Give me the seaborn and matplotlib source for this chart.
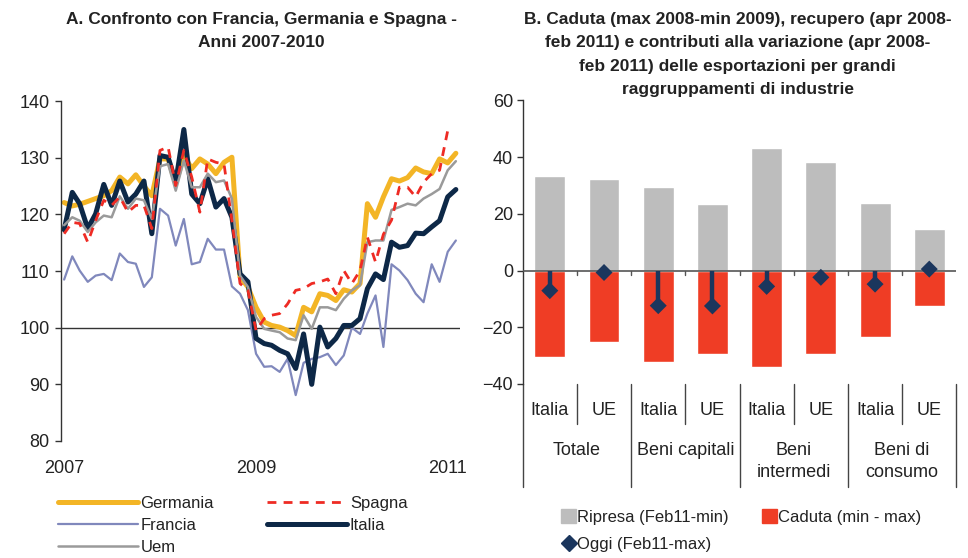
import numpy as np
import pandas as pd
import matplotlib
matplotlib.use("Agg")
import matplotlib.pyplot as plt
import matplotlib.dates as mdates
from matplotlib.patches import Patch
from matplotlib.lines import Line2D
import seaborn as sns

# --- panel A: monthly indices, Jan 2007 - Feb 2011 ---
months = pd.date_range("2007-01-01", periods=50, freq="MS")

germania = [122.1, 121.5, 121.8, 122.3, 122.8, 123.3, 124.2, 126.6, 125.4, 127.0,
            125.0, 123.3, 129.8, 129.8, 125.4, 130.4, 128.1, 129.8, 128.9, 127.2,
            129.2, 130.1, 108.9, 107.2, 103.6, 101.0, 100.4, 100.1, 99.5, 98.6,
            103.6, 102.8, 106.0, 105.7, 104.8, 106.7, 106.3, 107.8, 121.9, 119.5,
            123.1, 126.3, 125.9, 126.5, 128.2, 127.5, 127.2, 129.8, 129.1, 130.8]
spagna = [116.6, 118.6, 118.4, 115.1, 118.9, 122.5, 121.6, 123.1, 120.4, 121.6,
          121.6, 117.5, 131.3, 131.9, 125.1, 131.3, 126.6, 120.4, 129.8, 129.2,
          128.9, 118.9, 107.8, 106.6, 99.5, 101.6, 102.2, 102.5, 104.2, 106.6,
          106.9, 107.8, 108.1, 108.6, 106.0, 110.1, 107.8, 110.1, 116.0, 111.6,
          116.5, 119.0, 124.8, 124.8, 123.1, 125.7, 127.2, 127.8, 134.8, np.nan]
francia = [108.5, 112.6, 110.1, 108.1, 109.2, 109.5, 108.4, 113.1, 111.6, 111.3,
           107.2, 108.9, 121.0, 119.8, 114.5, 119.2, 111.2, 111.6, 115.7, 113.8,
           113.8, 107.3, 106.0, 103.1, 95.4, 93.1, 93.2, 92.2, 94.5, 88.1,
           93.8, 94.5, 94.8, 95.4, 93.4, 95.1, 100.0, 98.9, 102.5, 105.7,
           96.6, 111.2, 110.1, 108.4, 106.0, 104.5, 111.2, 108.1, 113.4, 115.4]
italia = [117.3, 123.9, 121.9, 117.5, 120.1, 125.3, 121.6, 125.9, 122.2, 123.6,
          125.9, 116.6, 130.4, 130.1, 125.7, 135.0, 123.6, 121.9, 126.3, 121.3,
          122.8, 119.5, 109.5, 108.1, 98.1, 97.2, 96.9, 96.0, 95.4, 92.8,
          98.9, 90.0, 100.1, 96.6, 98.1, 100.4, 100.4, 101.6, 106.9, 109.5,
          108.5, 115.1, 114.2, 114.5, 116.7, 116.6, 117.8, 118.9, 123.1, 124.4]
uem = [118.1, 119.5, 118.9, 116.9, 118.6, 119.8, 119.5, 123.2, 121.0, 122.8,
       122.5, 119.2, 128.5, 128.9, 124.2, 129.5, 124.8, 124.8, 127.2, 125.7,
       126.0, 122.8, 109.2, 107.2, 101.9, 99.8, 99.5, 99.2, 98.1, 97.8,
       102.2, 99.8, 103.6, 103.6, 103.1, 105.1, 106.6, 107.5, 115.1, 115.4,
       115.4, 120.8, 121.3, 121.9, 121.6, 122.8, 123.6, 124.5, 127.8, 129.4]

# --- panel B: bars per industry group ---
gruppi = ["Totale", "Beni capitali", "Beni\nintermedi", "Beni di\nconsumo"]
aree = ["Italia", "UE"]
ripresa = [33.4, 32.4, 29.5, 23.5, 43.3, 38.4, 23.8, 14.7]
caduta = [-30.4, -25.1, -32.1, -29.3, -34.2, -29.3, -23.3, -12.4]
oggi = [-7.1, -0.7, -12.4, -12.5, -5.6, -2.4, -4.8, 0.5]

c_ger = "#F3B526"
c_spa = "#EE2B24"
c_fra = "#8088BC"
c_ita = "#0D2847"
c_uem = "#9A9A9A"
c_grey = "#BDBDBD"
c_red = "#EF3D25"
c_dia = "#1B365D"
txt = "#222222"

sns.set_style("white")
plt.rcParams["font.family"] = ["Liberation Sans", "DejaVu Sans"]
plt.rcParams["font.size"] = 13
plt.rcParams["text.color"] = txt

fig = plt.figure(figsize=(9.68, 5.58), dpi=100)
ax1 = fig.add_axes([0.063, 0.2097, 0.412, 0.609])
ax2 = fig.add_axes([0.540, 0.312, 0.448, 0.508])

# ---------------- panel A ----------------
df_a = pd.DataFrame({"data": months, "Germania": germania, "Spagna": spagna,
                     "Francia": francia, "Italia": italia, "Uem": uem})

ax1.axhline(100, color="#333333", lw=1, zorder=1)
sns.lineplot(data=df_a, x="data", y="Germania", color=c_ger, lw=3.6, ax=ax1, label="Germania")
sns.lineplot(data=df_a, x="data", y="Francia", color=c_fra, lw=1.6, ax=ax1, label="Francia")
sns.lineplot(data=df_a, x="data", y="Italia", color=c_ita, lw=3.6, ax=ax1, label="Italia")
sns.lineplot(data=df_a, x="data", y="Uem", color=c_uem, lw=1.8, ax=ax1, label="Uem")
sns.lineplot(data=df_a, x="data", y="Spagna", color=c_spa, lw=2.0, ax=ax1, label="Spagna")
ax1.lines[-1].set_dashes((3.2, 2.6))

ax1.set_ylim(80, 140)
ax1.set_yticks([80, 90, 100, 110, 120, 130, 140])
ax1.set_xlim(pd.Timestamp("2006-12-20"), pd.Timestamp("2011-02-16"))
ax1.set_xticks([pd.Timestamp("2007-01-01"), pd.Timestamp("2009-01-01"), pd.Timestamp("2011-01-01")])
ax1.xaxis.set_major_formatter(mdates.DateFormatter("%Y"))
ax1.set_xlabel("")
ax1.set_ylabel("")
for s in ["top", "right", "bottom"]:
    ax1.spines[s].set_visible(False)
ax1.spines["left"].set_color("#333333")
ax1.spines["left"].set_linewidth(1)
ax1.tick_params(axis="y", left=True, length=4, width=1, color="#333333", pad=4,
                labelsize=13, labelcolor=txt)
ax1.tick_params(axis="x", bottom=False, length=0, pad=14, labelsize=13, labelcolor=txt)

h, l = ax1.get_legend_handles_labels()
hd = dict(zip(l, h))
order = ["Germania", "Francia", "Uem", "Spagna", "Italia"]
ax1.legend([hd[k] for k in order], order, ncol=2, frameon=False,
           loc="upper left", bbox_to_anchor=(0.06, 0.112), bbox_transform=fig.transFigure,
           handlelength=4.8, handletextpad=0.15, columnspacing=3.2, labelspacing=0.42,
           borderaxespad=0, borderpad=0, fontsize=12)

# ---------------- panel B ----------------
keys = [f"{g}|{a}" for g in gruppi for a in aree]
df_b = pd.DataFrame({"key": keys, "ripresa": ripresa, "caduta": caduta, "oggi": oggi})

sns.barplot(data=df_b, x="key", y="ripresa", order=keys, color=c_grey, saturation=1,
            width=0.57, errorbar=None, ax=ax2)
sns.barplot(data=df_b, x="key", y="caduta", order=keys, color=c_red, saturation=1,
            width=0.57, errorbar=None, ax=ax2)
pos = np.arange(len(keys))
ax2.vlines(pos, 0, df_b["oggi"], color=c_dia, lw=3.2, zorder=4)
sns.scatterplot(x=pos, y=df_b["oggi"], marker="D", s=75, color=c_dia, edgecolor="none",
                zorder=5, ax=ax2)

ax2.axhline(0, color="#555555", lw=1.2, zorder=3)
ax2.set_ylim(-40, 60)
ax2.set_yticks([-40, -20, 0, 20, 40, 60])
ax2.set_xlim(-0.5, len(keys) - 0.5)
ax2.set_xticks([])
ax2.set_xlabel("")
ax2.set_ylabel("")
for s in ["top", "right", "bottom"]:
    ax2.spines[s].set_visible(False)
ax2.spines["left"].set_color("#333333")
ax2.spines["left"].set_linewidth(1)
ax2.tick_params(axis="y", left=True, length=4, width=1, color="#333333", pad=3,
                labelsize=13, labelcolor=txt)

# category axis ticks on the zero line and separators below the plot
bx = ax2.get_xaxis_transform()
for b in np.arange(0.5, len(keys) - 0.5, 1.0):
    ax2.plot([b, b], [0, -1.5], color="#555555", lw=1, zorder=3)
for i, b in enumerate(np.arange(-0.5, len(keys), 1.0)):
    bottom = -0.365 if i % 2 == 0 else -0.14
    ax2.plot([b, b], [0, bottom], transform=bx, color="#444444", lw=1, clip_on=False)
for i, k in enumerate(keys):
    ax2.text(i, -0.095, k.split("|")[1], transform=bx, ha="center", va="center",
             fontsize=13, color=txt)
for j, g in enumerate(gruppi):
    ax2.text(2 * j + 0.5, -0.205, g, transform=bx, ha="center", va="top",
             fontsize=13, color=txt, linespacing=1.35)

leg_h = [Patch(color=c_grey), Line2D([], [], marker="D", ls="", color=c_dia, markersize=8),
         Patch(color=c_red)]
leg_l = ["Ripresa (Feb11-min)", "Oggi (Feb11-max)", "Caduta (min - max)"]
ax2.legend(leg_h, leg_l, ncol=2, frameon=False, loc="upper left",
           bbox_to_anchor=(0.580, 0.088), bbox_transform=fig.transFigure,
           handlelength=0.9, handleheight=0.9, handletextpad=0.05, columnspacing=2.0,
           labelspacing=0.72, borderaxespad=0, borderpad=0, fontsize=12)

# titles
fig.text(0.27, 0.978, "A. Confronto con Francia, Germania e Spagna -\nAnni 2007-2010",
         ha="center", va="top", fontsize=12.5, fontweight="bold", linespacing=1.68)
fig.text(0.762, 0.978, "B. Caduta (max 2008-min 2009), recupero (apr 2008-\n"
         "feb 2011) e contributi alla variazione (apr 2008-\n"
         "feb 2011) delle esportazioni per grandi\nraggruppamenti di industrie",
         ha="center", va="top", fontsize=12.5, fontweight="bold", linespacing=1.68)

fig.savefig("out.png", dpi=100)
